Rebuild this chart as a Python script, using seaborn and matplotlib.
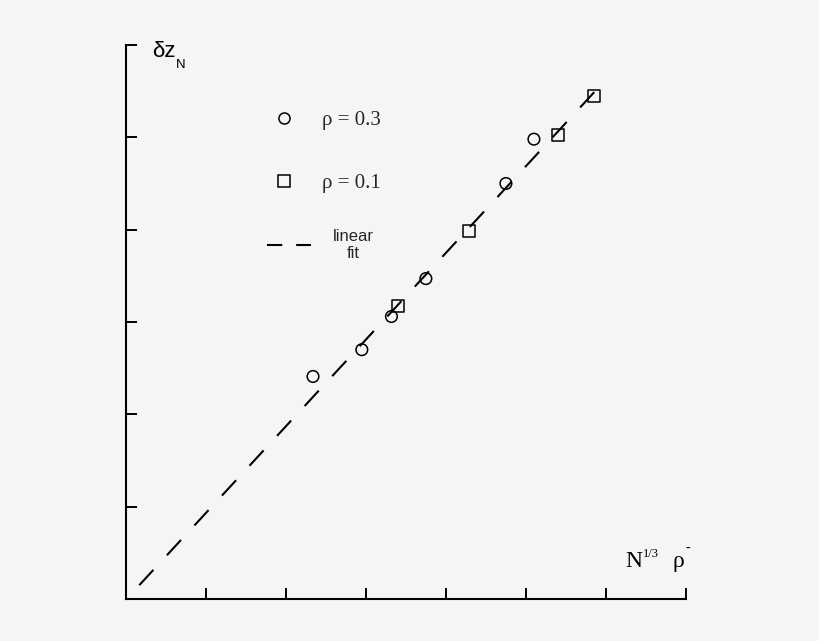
import seaborn as sns
import matplotlib.pyplot as plt
from matplotlib.lines import Line2D

# data (arbitrary units, axes run 0..7 and 0..6)
rho03_x = [2.34, 2.95, 3.32, 3.75, 4.75, 5.10]
rho03_y = [2.41, 2.70, 3.06, 3.47, 4.50, 4.98]
rho01_x = [3.40, 4.29, 5.40, 5.85]
rho01_y = [3.17, 3.99, 5.03, 5.45]
fit_x = [0.17, 5.95]
fit_y = [0.15, 5.58]
x_ticks = [0, 1, 2, 3, 4, 5, 6, 7]
y_ticks = [0, 1, 2, 3, 4, 5, 6]

BG = '#f5f5f5'
W, H = 820, 641

sns.set_theme(style='white')
plt.rcParams['font.family'] = ['Liberation Serif', 'DejaVu Serif']

fig = plt.figure(figsize=(8.2, 6.41), dpi=100, facecolor=BG)
ax = fig.add_axes([125.7 / W, 1 - 599 / H, (686 - 125.7) / W, (599 - 45) / H])
ax.set_facecolor(BG)

sns.lineplot(x=fit_x, y=fit_y, color='black', linewidth=1.5,
             linestyle=(0, (10, 9.5)), ax=ax)
sns.scatterplot(x=rho03_x, y=rho03_y, marker='o', s=70, facecolor='none',
                edgecolor='black', linewidth=1.1, ax=ax)
sns.scatterplot(x=rho01_x, y=rho01_y, marker='s', s=75, facecolor='none',
                edgecolor='black', linewidth=1.1, ax=ax)

ax.set_xlim(0, 7)
ax.set_ylim(0, 6)
ax.set_xticks(x_ticks)
ax.set_yticks(y_ticks)
ax.set_xticklabels([])
ax.set_yticklabels([])
ax.tick_params(direction='in', length=8, width=1.4, color='black',
               bottom=True, left=True)
for side in ['top', 'right']:
    ax.spines[side].set_visible(False)
for side in ['left', 'bottom']:
    ax.spines[side].set_color('black')
    ax.spines[side].set_linewidth(1.5)
ax.set_xlabel('')
ax.set_ylabel('')

# legend: the two symbol rows
sym_handles = [
    Line2D([], [], marker='o', ls='none', mfc='none', mec='black', ms=8, mew=1.1),
    Line2D([], [], marker='s', ls='none', mfc='none', mec='black', ms=8, mew=1.1),
]
leg1 = ax.legend(sym_handles, ['ρ = 0.3', 'ρ = 0.1'], loc='upper left', frameon=False,
                 bbox_to_anchor=(267 / W, 1 - 110.5 / H), bbox_transform=fig.transFigure,
                 fontsize=15, handlelength=1.63, handletextpad=1.0,
                 labelspacing=2.1, borderpad=0, borderaxespad=0)
ax.add_artist(leg1)

# legend: the fit line row
fit_handle = [Line2D([], [], color='black', lw=1.5, ls=(0, (7.3, 6.7)))]
leg2 = ax.legend(fit_handle, ['linear\nfit'], loc='center left', frameon=False,
                 bbox_to_anchor=(267 / W, 1 - 245 / H), bbox_transform=fig.transFigure,
                 prop={'family': 'Liberation Sans', 'size': 12},
                 handlelength=2.63, handletextpad=1.3, borderpad=0, borderaxespad=0)
fit_text = leg2.get_texts()[0]
fit_text.set_multialignment('center')
fit_text.set_linespacing(1.15)

# y label: delta z with subscript N
fig.text(152 / W, 1 - 56.7 / H, 'δz', fontsize=16, family='Liberation Sans',
         ha='left', va='baseline', color='black')
fig.text(176 / W, 1 - 67.5 / H, 'N', fontsize=9.5, family='Liberation Sans',
         ha='left', va='baseline', color='black')

# x label: N^(1/3) rho^-
fig.text(625 / W, 1 - 567 / H, 'N', fontsize=17, ha='left', va='baseline', color='black')
fig.text(643 / W, 1 - 556.7 / H, '1/3', fontsize=9, ha='left', va='baseline', color='black')
fig.text(673 / W, 1 - 567 / H, 'ρ', fontsize=17, ha='left', va='baseline', color='black')
fig.text(686 / W, 1 - 551.5 / H, '-', fontsize=10, ha='left', va='baseline', color='black')

fig.savefig('out.png', dpi=100, facecolor=BG)
